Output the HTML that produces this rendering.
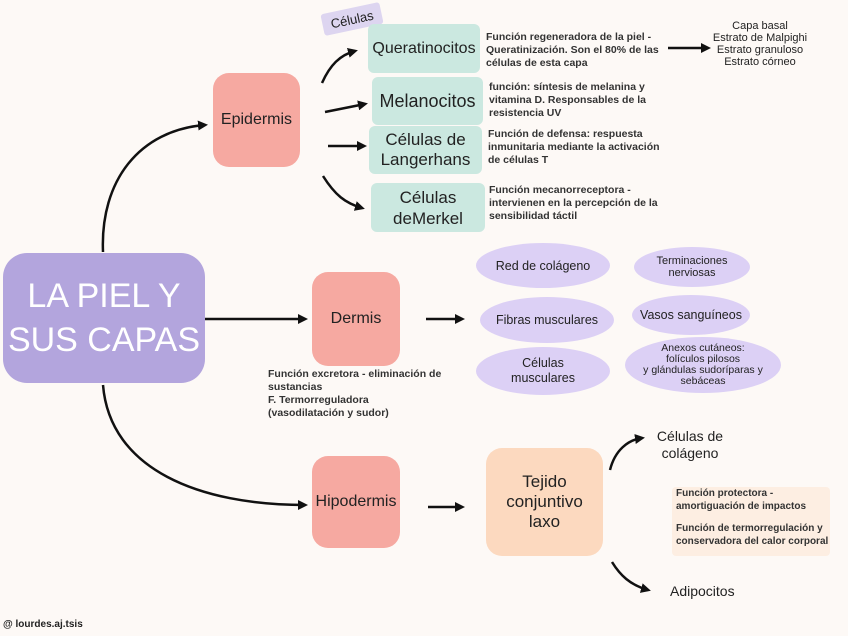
<!DOCTYPE html>
<html><head><meta charset="utf-8"><style>
body{margin:0;width:848px;height:636px;background:#fdf9f6;position:relative;overflow:hidden;font-family:"Liberation Sans",sans-serif;color:#222}
.b{position:absolute;display:flex;align-items:center;justify-content:center;text-align:center;border-radius:16px}
.t{position:absolute;font-size:10.5px;font-weight:bold;line-height:13px;color:#333}
.e{position:absolute;background:#dcd0f5;border-radius:50%;display:flex;align-items:center;justify-content:center;text-align:center;font-size:12.5px;line-height:14px}
</style></head><body>
<svg width="848" height="636" style="position:absolute;left:0;top:0">
<defs><marker id="a" markerWidth="10" markerHeight="10" refX="7" refY="5" orient="auto" markerUnits="userSpaceOnUse"><path d="M0,0 L10,5 L0,10z" fill="#111"/></marker></defs>
<g stroke="#111" stroke-width="2.5" fill="none" marker-end="url(#a)">
<path d="M103,252 C100,180 140,130 205,125"/>
<path d="M205,319 L305,319"/>
<path d="M103,385 C110,470 200,505 305,505"/>
<path d="M322,83 C330,65 340,55 355,51"/>
<path d="M325,112 L365,104"/>
<path d="M328,146 L364,146"/>
<path d="M323,176 C335,195 345,203 362,208"/>
<path d="M668,48 L708,48"/>
<path d="M426,319 L462,319"/>
<path d="M428,507 L462,507"/>
<path d="M610,470 C615,450 628,440 642,438"/>
<path d="M612,562 C620,575 630,585 648,590"/>
</g></svg>
<div class="b" style="left:322px;top:8px;width:60px;height:22px;background:#ddd5f0;border-radius:3px;transform:rotate(-12deg);font-size:13px">Células</div>
<div class="b" style="left:3px;top:253px;width:202px;height:130px;background:#b3a5dd;color:#fff;font-size:34px;line-height:44px;border-radius:24px">LA PIEL Y<br>SUS CAPAS</div>
<div class="b" style="left:213px;top:73px;width:87px;height:94px;background:#f6a9a1;font-size:16px">Epidermis</div>
<div class="b" style="left:312px;top:272px;width:88px;height:94px;background:#f6a9a1;font-size:16px">Dermis</div>
<div class="b" style="left:312px;top:456px;width:88px;height:92px;background:#f6a9a1;font-size:16px">Hipodermis</div>
<div class="b" style="left:486px;top:448px;width:117px;height:108px;background:#fcd9bf;font-size:17px;line-height:20px">Tejido<br>conjuntivo<br>laxo</div>
<div class="b" style="left:368px;top:24px;width:112px;height:49px;background:#cbe8e0;font-size:16px;border-radius:6px">Queratinocitos</div>
<div class="b" style="left:372px;top:77px;width:111px;height:48px;background:#cbe8e0;font-size:18px;border-radius:6px">Melanocitos</div>
<div class="b" style="left:369px;top:126px;width:113px;height:48px;background:#cbe8e0;font-size:17px;line-height:20px;border-radius:6px">Células de<br>Langerhans</div>
<div class="b" style="left:371px;top:183px;width:114px;height:49px;background:#cbe8e0;font-size:17px;line-height:21px;border-radius:6px">Células<br>deMerkel</div>
<div class="t" style="left:486px;top:31px;width:180px">Función regeneradora de la piel - Queratinización. Son el 80% de las células de esta capa</div>
<div class="t" style="left:489px;top:81px;width:170px">función: síntesis de melanina y vitamina D. Responsables de la resistencia UV</div>
<div class="t" style="left:488px;top:128px;width:175px">Función de defensa: respuesta inmunitaria mediante la activación de células T</div>
<div class="t" style="left:489px;top:184px;width:175px">Función mecanorreceptora - intervienen en la percepción de la sensibilidad táctil</div>
<div style="position:absolute;left:700px;top:20px;width:120px;text-align:center;font-size:11px;line-height:12px">Capa basal<br>Estrato de Malpighi<br>Estrato granuloso<br>Estrato córneo</div>
<div class="e" style="left:476px;top:243px;width:134px;height:45px">Red de colágeno</div>
<div class="e" style="left:634px;top:247px;width:116px;height:40px;font-size:11px;line-height:12px">Terminaciones<br>nerviosas</div>
<div class="e" style="left:480px;top:297px;width:134px;height:46px">Fibras musculares</div>
<div class="e" style="left:632px;top:295px;width:118px;height:40px">Vasos sanguíneos</div>
<div class="e" style="left:476px;top:347px;width:134px;height:48px;line-height:15px">Células<br>musculares</div>
<div class="e" style="left:625px;top:337px;width:156px;height:56px;font-size:10.5px;line-height:11px">Anexos cutáneos:<br>folículos pilosos<br>y glándulas sudoríparas y<br>sebáceas</div>
<div class="t" style="left:268px;top:368px;width:180px">Función excretora - eliminación de sustancias<br>F. Termorreguladora<br>(vasodilatación y sudor)</div>
<div style="position:absolute;left:645px;top:428px;width:90px;text-align:center;font-size:14px;line-height:17px">Células de<br>colágeno</div>
<div style="position:absolute;left:670px;top:583px;font-size:14px">Adipocitos</div>
<div style="position:absolute;left:672px;top:487px;width:158px;height:69px;background:#fdeee2;border-radius:4px"></div>
<div class="t" style="left:676px;top:487px;width:158px;font-size:10px">Función protectora - amortiguación de impactos<br><span style="display:block;height:9px"></span>Función de termorregulación y conservadora del calor corporal</div>
<div style="position:absolute;left:3px;top:619px;font-size:10px;font-weight:bold">@ lourdes.aj.tsis</div>
</body></html>
